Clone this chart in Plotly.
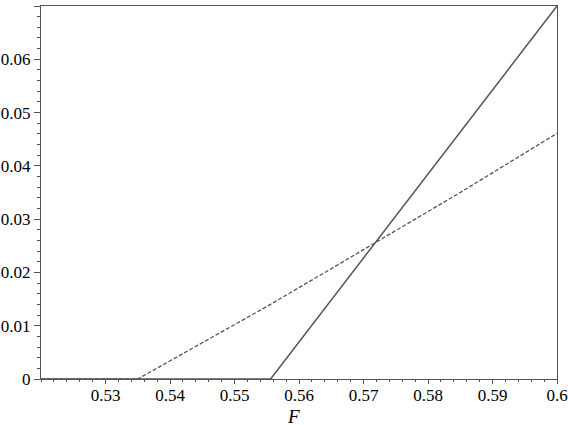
import plotly.graph_objects as go

# dashed curve
dash_x = [0.52, 0.535, 0.545, 0.555, 0.565, 0.575, 0.585, 0.595, 0.6]
dash_y = [0.0, 0.0, 0.0068, 0.0136, 0.0207, 0.0278, 0.0350, 0.0424, 0.0461]

# solid curve
solid_x = [0.52, 0.5556, 0.6]
solid_y = [0.0, 0.0, 0.07]

x_ticks = [0.53, 0.54, 0.55, 0.56, 0.57, 0.58, 0.59, 0.6]
y_ticks = [0, 0.01, 0.02, 0.03, 0.04, 0.05, 0.06, 0.07]

LINE = "#555555"
FONT = "Liberation Serif"

fig = go.Figure()

fig.add_trace(go.Scatter(
    x=dash_x, y=dash_y, mode="lines",
    line=dict(color=LINE, width=1.3, dash="4px,2px"),
    showlegend=False,
))
fig.add_trace(go.Scatter(
    x=solid_x, y=solid_y, mode="lines",
    line=dict(color=LINE, width=1.5),
    showlegend=False,
))

fig.update_layout(
    width=568, height=425,
    margin=dict(l=41, r=11, t=6, b=46),
    paper_bgcolor="white", plot_bgcolor="white",
    font=dict(family=FONT, size=17, color="black"),
)

fig.update_xaxes(
    range=[0.52, 0.6], tickvals=x_ticks,
    ticktext=[f"{v:g}" for v in x_ticks],
    automargin=False,
    showgrid=False, zeroline=False,
    showline=True, linecolor=LINE, linewidth=1.2, mirror=True,
    ticks="outside", ticklen=4, tickcolor=LINE,
    ticklabelstandoff=-4,
    tickfont=dict(family=FONT, size=17),
    minor=dict(dtick=0.002, tick0=0.52, ticks="outside", ticklen=2,
               tickcolor=LINE, showgrid=False),
)
fig.update_yaxes(
    range=[0, 0.07], tickvals=y_ticks,
    ticktext=[f"{v:g}" for v in y_ticks],
    automargin=False,
    showgrid=False, zeroline=False,
    showline=True, linecolor=LINE, linewidth=1.2, mirror=True,
    ticks="outside", ticklen=6, tickcolor=LINE,
    tickfont=dict(family=FONT, size=17),
    minor=dict(dtick=0.002, tick0=0, ticks="outside", ticklen=3,
               tickcolor=LINE, showgrid=False),
)

# x-axis label placed by hand, just under the tick labels
fig.add_annotation(
    text="<i>F</i>", xref="paper", yref="paper",
    x=0.49, y=-0.068, xanchor="center", yanchor="top",
    showarrow=False, font=dict(family=FONT, size=19, color="black"),
)

# drop the page's default body margin so the figure sits at the window corner
fig.write_html(
    "out.html",
    config={"displayModeBar": False},
    post_script="document.body.style.margin='0';",
)
